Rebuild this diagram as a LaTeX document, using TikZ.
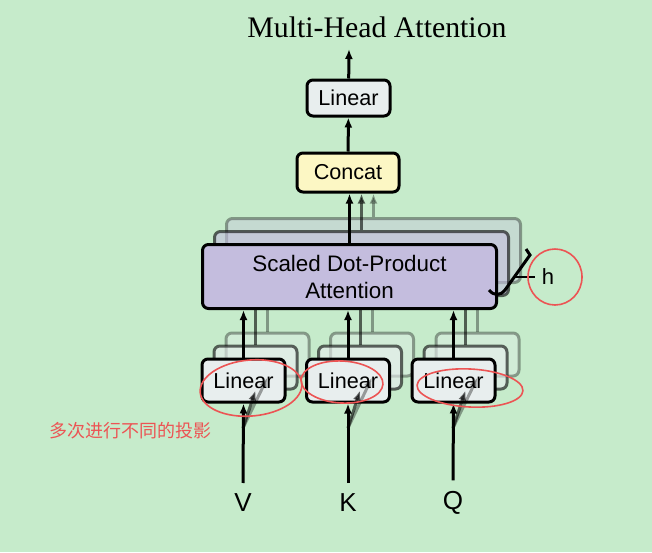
\documentclass[tikz,border=0pt]{standalone}
\usepackage{fontspec}
\setmainfont{Liberation Serif}
\setsansfont{Liberation Sans}
\newfontfamily\cjk{Noto Sans CJK SC}
\usetikzlibrary{arrows.meta}

\definecolor{bggreen}{RGB}{198,235,203}
\definecolor{boxgray}{RGB}{232,238,238}
\definecolor{boxyellow}{RGB}{252,247,196}
\definecolor{boxlilac}{RGB}{196,189,222}
\definecolor{pen}{RGB}{236,84,84}

\newcommand\attlabel{Scaled Dot-Product\\Attention}

\begin{document}
\begin{tikzpicture}[x=0.5pt, y=-0.5pt,
  box/.style={draw=black, line width=1.5pt, rounded corners=3pt, font=\sffamily\fontsize{10.8}{12}\selectfont, inner sep=0pt},
  linbox/.style={box, fill=boxgray, minimum width=41.5pt, minimum height=21.5pt},
  attbox/.style={box, fill=boxlilac, minimum width=147pt, minimum height=32pt, align=center, font=\sffamily\fontsize{11.2}{13.5}\selectfont},
  arr/.style={line width=1.5pt, -{Latex[length=5pt, width=4pt]}},
  inlabel/.style={font=\sffamily\fontsize{13}{15}\selectfont},
  note/.style={draw=pen, line width=0.8pt}]

% Background
\fill[bggreen] (0,0) rectangle (652,552);
\useasboundingbox (0,0) rectangle (652,552);

% Title
\node[font=\fontsize{14.9}{18}\selectfont] (title) at (377,27) {Multi-Head Attention};

% Top part
\node[linbox, minimum height=18pt] (lintop) at (348.5,98) {Linear};
\node[box, fill=boxyellow, minimum width=51pt, minimum height=19.5pt] (concat) at (348,172.5) {Concat};
\coordinate (out) at (349,49);

\draw[arr] (concat) -- (lintop);
\draw[arr] (lintop) -- (out);

% Inputs
\node[inlabel] (V) at (243,503) {V};
\node[inlabel] (K) at (348,503) {K};
\node[inlabel] (Q) at (453,503) {Q};
\coordinate (vfork) at (243,428);
\coordinate (kfork) at (348,428);
\coordinate (qfork) at (453,428);

% Heads, back to front
\foreach \k/\op in {2/0.35, 1/0.6, 0/1} {
  \begin{scope}[shift={(12*\k,-13*\k)}, opacity=\op]
    \node[attbox] (att\k) at (349.5,276.5) {\ifnum\k=0 \attlabel\fi};
    \node[linbox] (lv\k) at (243.5,380.5) {\ifnum\k=0 Linear\fi};
    \node[linbox] (lk\k) at (348,380.5) {\ifnum\k=0 Linear\fi};
    \node[linbox] (lq\k) at (453.5,380.5) {\ifnum\k=0 Linear\fi};

    \draw[arr] (lv\k.north) -- (lv\k.north |- att\k.south);
    \draw[arr] (lk\k.north) -- (lk\k.north |- att\k.south);
    \draw[arr] (lq\k.north) -- (lq\k.north |- att\k.south);
    \draw[arr] (att\k.north) -- (att\k.north |- concat.south);
  \end{scope}
}

% Input edges
\foreach \k/\op in {2/0.35, 1/0.6} {
  \draw[arr, opacity=\op] (vfork) -- (lv\k.south);
  \draw[arr, opacity=\op] (kfork) -- (lk\k.south);
  \draw[arr, opacity=\op] (qfork) -- (lq\k.south);
}
\draw[arr] ([yshift=2pt]V.north) -- (lv0.south);
\draw[arr] ([yshift=2pt]K.north) -- (lk0.south);
\draw[arr] ([yshift=2pt]Q.north) -- (lq0.south);

% h marker
\node[font=\sffamily\fontsize{11}{13}\selectfont] (h) at (548,277) {h};
\draw[line width=1.5pt] (489,290) .. controls (494,296) and (500,296) .. (505,290) -- (530,255) -- (526,249);
\draw[line width=1pt] (514,277) -- (h.west);

% Notes
\draw[note] (251,388) ellipse [x radius=51, y radius=28, rotate=5];
\draw[note] (342,382) ellipse [x radius=41, y radius=21, rotate=-3];
\draw[note] (470,388) ellipse [x radius=53, y radius=19, rotate=-3];
\draw[note] (555,277) ellipse [x radius=27, y radius=28];
\node[text=pen, font=\cjk\fontsize{9}{11}\selectfont] (tip) at (130,431) {多次进行不同的投影};

\end{tikzpicture}
\end{document}
